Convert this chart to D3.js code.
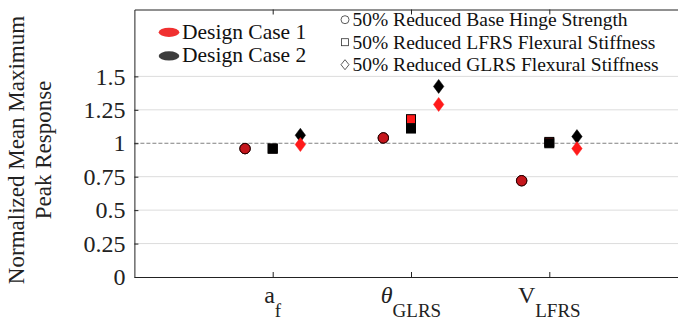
<!DOCTYPE html>
<html>
<head>
<meta charset="utf-8">
<script src="https://cdn.jsdelivr.net/npm/d3@7"></script>
</head>
<body style="margin:0;padding:0;background:#fff">
<svg id="chart" width="678" height="322" style="display:block"></svg>
<script>
// Response parameters on the x axis (base text + subscript)
const categories = ["a", "θ", "V"];
const categorySubs = ["f", "GLRS", "LFRS"];
const categoryItalic = [false, true, false];

// Model variants, one marker shape each
const variants = ["50% Reduced Base Hinge Strength",
                  "50% Reduced LFRS Flexural Stiffness",
                  "50% Reduced GLRS Flexural Stiffness"];
const variantShapes = ["circle", "square", "diamond"];
const variantOffsets = [-0.2, 0, 0.2];

// Normalized mean maximum peak response, rows = categories, cols = variants
const case1Values = [
  [0.96, 0.96, 0.99],
  [1.04, 1.18, 1.29],
  [0.72, 1.01, 0.96]
];
const case2Values = [
  [0.96, 0.96, 1.06],
  [1.04, 1.11, 1.425],
  [0.72, 1.00, 1.05]
];

const designCases = ["Design Case 1", "Design Case 2"];
const yTicks = [0, 0.25, 0.5, 0.75, 1, 1.25, 1.5];
const yTickLabels = ["0", "0.25", "0.5", "0.75", "1", "1.25", "1.5"];
const gridValues = [0.25, 0.5, 0.75, 1.25, 1.5];
const referenceValue = 1;

(function () {
const FONT = '"Liberation Serif", "Times New Roman", Times, serif';
const svg = d3.select("#chart");
const plotLeft = 134.4, plotTop = 9.5, plotBottom = 277;

const x = d3.scaleLinear().domain([0, 4]).range([plotLeft, plotLeft + 4 * 138.3]);
const y = d3.scaleLinear().domain([0, 2]).range([plotBottom, plotTop]);

const RED = "#ff1a1a", BLACK = "#000";

function label(sel, size) {
  return sel.style("font-family", FONT).style("font-size", size + "px");
}

// grid lines
svg.append("g").selectAll("line").data(gridValues).join("line")
  .attr("x1", plotLeft).attr("x2", 678)
  .attr("y1", d => y(d)).attr("y2", d => y(d))
  .attr("stroke", "#dcdcdc").attr("stroke-width", 1);

// reference line at 1
svg.append("line")
  .attr("x1", plotLeft).attr("x2", 678)
  .attr("y1", y(referenceValue)).attr("y2", y(referenceValue))
  .attr("stroke", "#808080").attr("stroke-width", 1)
  .attr("stroke-dasharray", "4,2");

// axes
const yAxis = d3.axisLeft(y).tickValues(yTicks)
  .tickFormat((d, i) => yTickLabels[i]).tickSizeInner(-4).tickSizeOuter(0).tickPadding(9);
const gy = svg.append("g").attr("transform", `translate(${plotLeft},0)`).call(yAxis);
gy.attr("font-family", null).attr("font-size", null);
gy.select(".domain").attr("stroke", "#222");
gy.selectAll(".tick line").attr("stroke", "#222");
label(gy.selectAll(".tick text"), 24).attr("fill", "#222");

const xTickVals = categories.map((c, i) => i + 1);
const xBottom = d3.axisBottom(x).tickValues(xTickVals).tickFormat("").tickSizeInner(-5).tickSizeOuter(0);
const gxb = svg.append("g").attr("transform", `translate(0,${plotBottom})`).call(xBottom);
gxb.select(".domain").attr("stroke", "#222");
gxb.selectAll(".tick line").attr("stroke", "#222");
const xTop = d3.axisTop(x).tickValues(xTickVals).tickFormat("").tickSizeInner(-5).tickSizeOuter(0);
const gxt = svg.append("g").attr("transform", `translate(0,${plotTop})`).call(xTop);
gxt.select(".domain").attr("stroke", "#222");
gxt.selectAll(".tick line").attr("stroke", "#222");

// x tick labels with subscripts
categories.forEach((c, i) => {
  const t = label(svg.append("text"), 24)
    .attr("x", x(i + 1)).attr("y", 303)
    .attr("text-anchor", "middle").attr("fill", "#222");
  t.append("tspan").text(c).style("font-style", categoryItalic[i] ? "italic" : "normal");
  t.append("tspan").text(categorySubs[i]).style("font-size", "19px").attr("dy", 14);
});

// y axis title
const title = label(svg.append("text"), 23)
  .attr("transform", "translate(30,150) rotate(-90)")
  .attr("text-anchor", "middle").attr("fill", "#222");
title.append("tspan").attr("x", 0).attr("y", -6).text("Normalized Mean Maximum");
title.append("tspan").attr("x", 0).attr("y", 21).text("Peak Response");

// marker drawing
function drawMarker(g, shape, cx, cy, fill, stroke) {
  if (shape === "circle") {
    g.append("circle").attr("cx", cx).attr("cy", cy).attr("r", 5.2)
      .attr("fill", fill).attr("stroke", stroke).attr("stroke-width", 1);
  } else if (shape === "square") {
    g.append("rect").attr("x", cx - 4.5).attr("y", cy - 4.5)
      .attr("width", 9).attr("height", 9)
      .attr("fill", fill).attr("stroke", stroke).attr("stroke-width", 1);
  } else {
    g.append("path")
      .attr("d", `M${cx},${cy - 7}L${cx + 5.2},${cy}L${cx},${cy + 7}L${cx - 5.2},${cy}Z`)
      .attr("fill", fill).attr("stroke", stroke).attr("stroke-width", 0.5);
  }
}

const marks = svg.append("g");
categories.forEach((c, i) => {
  variantShapes.forEach((shape, j) => {
    const cx = x(i + 1 + variantOffsets[j]);
    const y1 = y(case1Values[i][j]), y2 = y(case2Values[i][j]);
    if (shape === "square") {
      drawMarker(marks, shape, cx, y1, RED, "#000");
      drawMarker(marks, shape, cx, y2, BLACK, "#000");
    } else if (shape === "circle") {
      drawMarker(marks, shape, cx, y2, BLACK, "#000");
      drawMarker(marks, shape, cx, y1, "#c4161c", "#300");
    } else {
      drawMarker(marks, shape, cx, y2, BLACK, BLACK);
      drawMarker(marks, shape, cx, y1, RED, RED);
    }
  });
});

// legend: design cases
const caseColors = ["#f03030", "#3c3c3c"];
designCases.forEach((name, k) => {
  const cy = 32.3 + k * 23.6;
  svg.append("ellipse").attr("cx", 169).attr("cy", cy).attr("rx", 10.3).attr("ry", 4.6)
    .attr("fill", caseColors[k]);
  label(svg.append("text"), 21.5).attr("x", 182).attr("y", cy + 6.5)
    .attr("fill", "#111").text(name);
});

// legend: variants (open symbols)
variants.forEach((name, k) => {
  const cy = 19.7 + k * 22.5;
  const cx = 345;
  if (variantShapes[k] === "circle") {
    svg.append("circle").attr("cx", cx).attr("cy", cy).attr("r", 4)
      .attr("fill", "none").attr("stroke", "#333").attr("stroke-width", 0.8);
  } else if (variantShapes[k] === "square") {
    svg.append("rect").attr("x", cx - 3.5).attr("y", cy - 3.5).attr("width", 7).attr("height", 7)
      .attr("fill", "none").attr("stroke", "#333").attr("stroke-width", 0.8);
  } else {
    svg.append("path").attr("d", `M${cx},${cy - 5}L${cx + 4},${cy}L${cx},${cy + 5}L${cx - 4},${cy}Z`)
      .attr("fill", "none").attr("stroke", "#333").attr("stroke-width", 0.8);
  }
  label(svg.append("text"), 19.5).attr("x", 352.5).attr("y", cy + 6.5)
    .attr("fill", "#111").text(name);
});
})();
</script>
</body>
</html>
